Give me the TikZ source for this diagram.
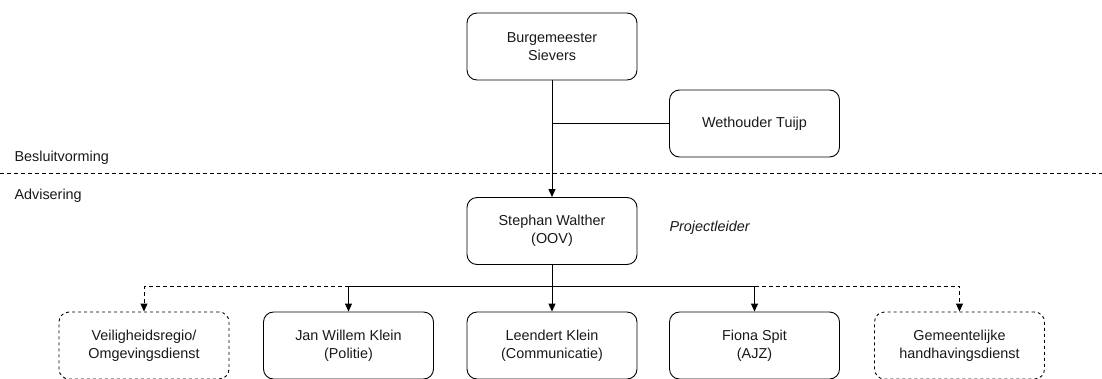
\documentclass[tikz,border=0pt]{standalone}
\usepackage{fontspec}
\setmainfont{Liberation Sans}
\usetikzlibrary{arrows.meta}

\tikzset{
    persoon/.style={draw, rounded corners=10pt, minimum width=170pt, minimum height=67pt,
        align=center, font=\fontsize{14.4}{18}\selectfont, line width=0.9pt, text=black!90},
    extern/.style={persoon, dashed},
    pijl/.style={-{Triangle[width=7pt,length=8pt]}, line width=0.9pt},
    label/.style={font=\fontsize{14.4}{18}\selectfont, text=black!90}
}

\begin{document}
\begin{tikzpicture}[x=1pt, y=-1pt]
    \useasboundingbox (0, 0) rectangle (1102, 378);

    % bovenste laag
    \node [persoon] (burgemeester) at (552, 46.5) {Burgemeester\\Sievers};
    \node [persoon] (wethouder) at (754.5, 123.5) {Wethouder Tuijp};
    \node [persoon] (stephan) at (552, 231) {Stephan Walther\\(OOV)};
    \node [label, font=\fontsize{14.4}{18}\selectfont\itshape, anchor=west] (rol) at (666, 228) {Projectleider};

    % scheiding
    \coordinate (links) at (0, 173);
    \coordinate (rechts) at (1102, 173);
    \draw [dashed, line width=0.8pt, dash pattern=on 4pt off 3pt] (links) -- (rechts);
    \node [label, anchor=west] (besluit) at (11, 158) {Besluitvorming};
    \node [label, anchor=west] (advies) at (11, 196) {Advisering};

    % onderste laag
    \node [extern] (veiligheid) at (144, 345.5) {Veiligheidsregio/\\Omgevingsdienst};
    \node [persoon] (jan) at (348.5, 345.5) {Jan Willem Klein\\(Politie)};
    \node [persoon] (leendert) at (552, 345.5) {Leendert Klein\\(Communicatie)};
    \node [persoon] (fiona) at (754.5, 345.5) {Fiona Spit\\(AJZ)};
    \node [extern] (handhaving) at (959.5, 345.5) {Gemeentelijke\\handhavingsdienst};

    % verbindingen
    \coordinate (knoop) at (552, 123.5);
    \coordinate (splitsing) at (552, 286);
    \draw [pijl] (burgemeester) -- (stephan);
    \draw [line width=0.9pt] (wethouder) -- (knoop);
    \draw [line width=0.9pt] (stephan) -- (splitsing);
    \draw [pijl] (splitsing) -- (leendert);
    \draw [pijl] (splitsing) -| (jan);
    \draw [pijl] (splitsing) -| (fiona);
    \draw [pijl, dashed, dash pattern=on 4pt off 3pt] (jan.north |- splitsing) -| (veiligheid);
    \draw [pijl, dashed, dash pattern=on 4pt off 3pt] (fiona.north |- splitsing) -| (handhaving);
\end{tikzpicture}
\end{document}
